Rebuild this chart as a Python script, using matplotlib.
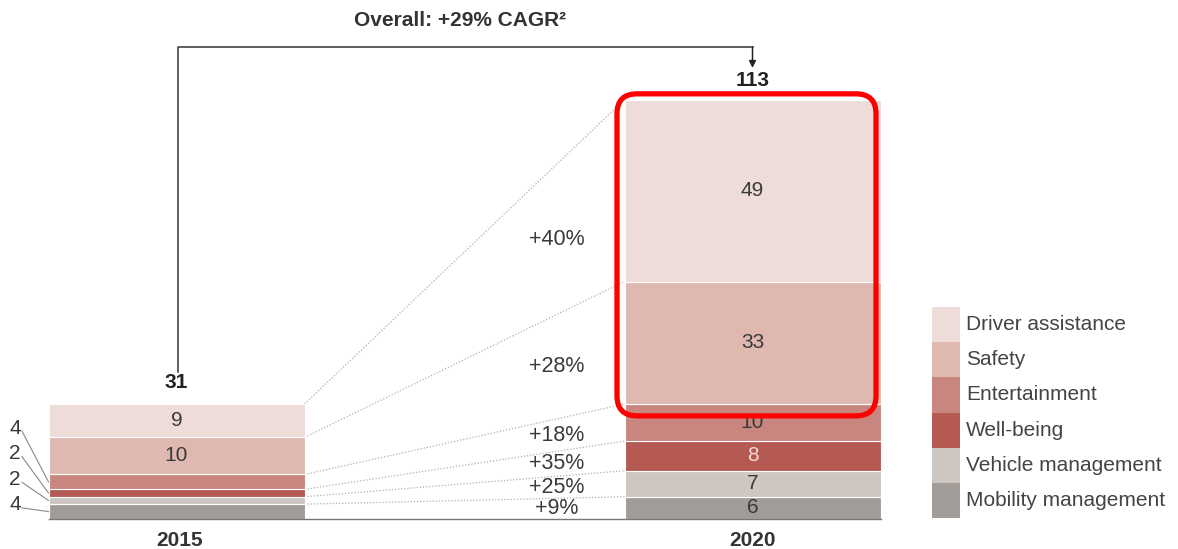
import matplotlib
matplotlib.use('Agg')
import matplotlib.pyplot as plt
from matplotlib.patches import FancyBboxPatch, Rectangle
import numpy as np

plt.rcParams['font.family'] = ['Liberation Sans', 'DejaVu Sans']

# stacked from the bottom up
segments = ['Mobility management', 'Vehicle management', 'Well-being',
            'Entertainment', 'Safety', 'Driver assistance']
years = ['2015', '2020']
values_2015 = [4, 2, 2, 4, 10, 9]
values_2020 = [6, 7, 8, 10, 33, 49]
growth = ['+9%', '+25%', '+35%', '+18%', '+28%', '+40%']
overall_label = 'Overall: +29% CAGR²'

colors = ['#A19C98', '#CEC6C1', '#B45A53', '#C8867E', '#DFB8AF', '#EEDCD8']
text_col = '#3a3a3a'

S = 3.71  # pixels per unit on the value axis
fig = plt.figure(figsize=(11.78, 5.49), dpi=100)
ax = fig.add_axes([0, 0, 1, 1])
ax.set_xlim(0, 1178)
ax.set_ylim(-30 / S, 519 / S)
ax.axis('off')

x15, x20, w = 176.5, 752.5, 256
cum15 = np.concatenate([[0], np.cumsum(values_2015)])
cum20 = np.concatenate([[0], np.cumsum(values_2020)])
total15, total20 = cum15[-1], cum20[-1]

for i in range(len(segments)):
    ax.bar(x15, values_2015[i], w, bottom=cum15[i], color=colors[i],
           edgecolor='white', linewidth=0.8, zorder=2)
    ax.bar(x20, values_2020[i], w, bottom=cum20[i], color=colors[i],
           edgecolor='white', linewidth=0.8, zorder=2)

# baseline
ax.plot([x15 - w / 2, x20 + w / 2], [0, 0], color='#777777', lw=1, zorder=3)

# dotted connectors between segment tops
xr, xl = x15 + w / 2, x20 - w / 2
for i in range(len(segments)):
    ax.plot([xr, xl], [cum15[i + 1], cum20[i + 1]], color='#b0b0b0',
            lw=0.9, ls=(0, (1, 1.5)), zorder=1)

# growth rates sitting between connectors
xg = 557
t = (xg - xr) / (xl - xr)
for i, g in enumerate(growth):
    lo = cum15[i] * (1 - t) + cum20[i] * t
    hi = cum15[i + 1] * (1 - t) + cum20[i + 1] * t
    ax.text(xg, (lo + hi) / 2, g, ha='center', va='center', fontsize=15.5,
            color=text_col)

# values inside bars
for i, v in enumerate(values_2015):
    if v >= 9:
        ax.text(x15, cum15[i] + v / 2, str(v), ha='center', va='center',
                fontsize=15, color=text_col, zorder=4)
for i, v in enumerate(values_2020):
    c = '#F7D5D0' if segments[i] == 'Well-being' else text_col
    ax.text(x20, cum20[i] + v / 2, str(v), ha='center', va='center',
            fontsize=15, color=c, zorder=4)

# small 2015 segments labelled on the left with leader lines
for i in range(4):
    ly = 3.8 + i * 6.9
    ax.text(15, ly, str(values_2015[i]), ha='center', va='center',
            fontsize=15, color=text_col)
    ax.plot([22, x15 - w / 2], [ly - 0.8, cum15[i] + values_2015[i] / 2],
            color='#888888', lw=0.8)

# totals
ax.text(x15, total15 + 5.7, str(total15), ha='center', va='center',
        fontsize=15, fontweight='bold', color='#222222')
ax.text(x20, total20 + 5.3, str(total20), ha='center', va='center',
        fontsize=15, fontweight='bold', color='#222222')

# overall bracket
y_top = 127.2
ax.plot([178, 178, x20], [total15 + 8.6, y_top, y_top], color='#333333',
        lw=1.1)
ax.annotate('', xy=(x20, total20 + 8.6), xytext=(x20, y_top),
            arrowprops=dict(arrowstyle='-|>', color='#222222', lw=1.1,
                            mutation_scale=10, shrinkA=0, shrinkB=0))
ax.text(460, 134.5, overall_label, ha='center', va='center', fontsize=15,
        fontweight='bold', color='#333333')

# year labels
for x, yr in zip([x15 + 3, x20], years):
    ax.text(x, -5.7, yr, ha='center', va='center', fontsize=15,
            fontweight='bold', color='#333333')

# highlight around the two largest 2020 segments
box = FancyBboxPatch((617, cum20[4] - 3.2), 259, total20 + 1.6 - (cum20[4] - 3.2),
                     boxstyle='round,pad=0,rounding_size=20',
                     mutation_aspect=1 / S, fill=False, edgecolor='#FF0000',
                     linewidth=3.8, zorder=5)
ax.add_patch(box)

# legend swatches, top to bottom
sh = 35.2 / S
y0 = (519 - 307) / S
for k, i in enumerate(range(len(segments) - 1, -1, -1)):
    yb = y0 - (k + 1) * sh
    ax.add_patch(Rectangle((932, yb), 28, sh, color=colors[i], lw=0))
    ax.text(966, yb + sh / 2, segments[i], ha='left', va='center',
            fontsize=15, color='#444444')

fig.savefig('out.png', dpi=100)
